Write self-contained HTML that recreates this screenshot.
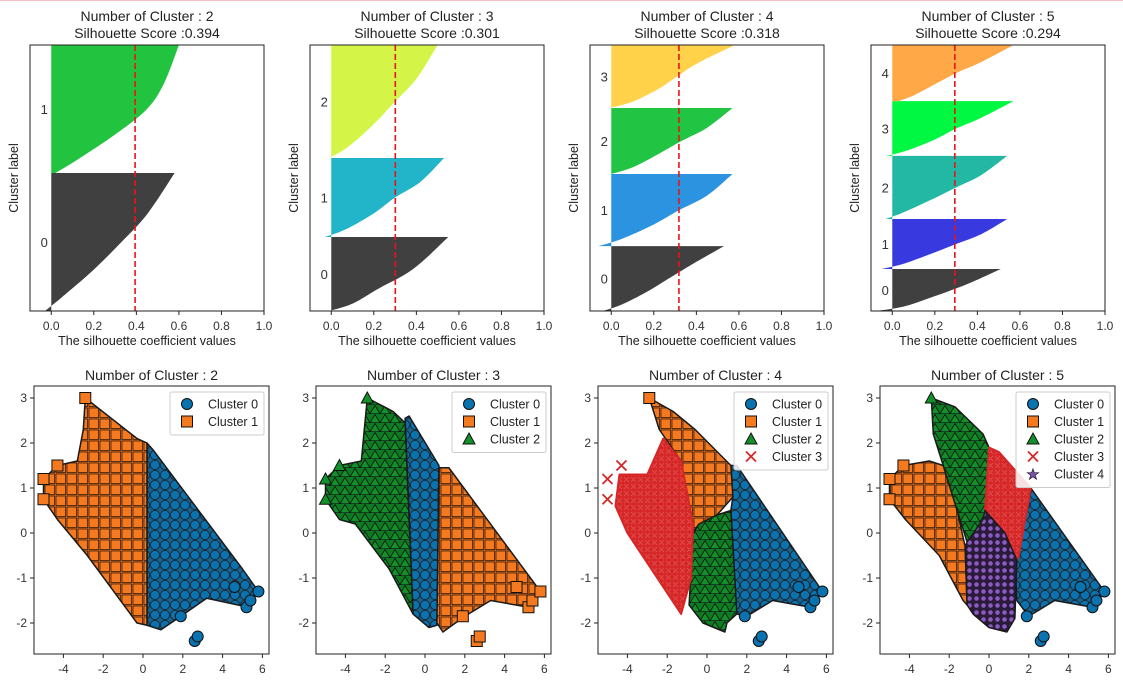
<!DOCTYPE html>
<html><head><meta charset="utf-8">
<style>
body{margin:0;background:#fff;}
svg{display:block;font-family:"Liberation Sans","NanumGothic","Noto Sans CJK KR",sans-serif;}
</style></head>
<body>
<svg id="fig" width="1123" height="688" viewBox="0 0 1123 688" xmlns="http://www.w3.org/2000/svg">
<defs>
<pattern id="p-blue" width="10" height="10" patternUnits="userSpaceOnUse"><rect width="10" height="10" fill="#17628f"/><circle cx="5" cy="5" r="4.6" fill="#0b72b0" stroke="#1a1a1a" stroke-width="0.8"/></pattern>
<pattern id="p-orange" width="11" height="11" patternUnits="userSpaceOnUse"><rect width="11" height="11" fill="#d9671a"/><rect x="1" y="1" width="9.5" height="9.5" fill="#f57a1f" stroke="#3a2010" stroke-width="0.8"/></pattern>
<pattern id="p-green" width="10" height="9" patternUnits="userSpaceOnUse"><rect width="10" height="9" fill="#0e7a22"/><polygon points="5,0.5 10,8.8 0,8.8" fill="#13902a" stroke="#111" stroke-width="0.8"/></pattern>
<pattern id="p-red" width="7" height="7" patternUnits="userSpaceOnUse"><rect width="7" height="7" fill="#d62728"/><path d="M1,1L6,6M6,1L1,6" stroke="#e24848" stroke-width="1"/></pattern>
<pattern id="p-purple" width="7" height="7" patternUnits="userSpaceOnUse"><rect width="7" height="7" fill="#2b1a3a"/><circle cx="3.5" cy="3.5" r="2.3" fill="#8a5cc0"/></pattern>
</defs>
</svg>
<script>
// ---------- silhouette data ----------
const silScores = [0.394, 0.301, 0.318, 0.294];
const silBounds = [[0,0.519,1],[0,0.278,0.575,1],[0,0.244,0.515,0.763,1],[0,0.158,0.346,0.583,0.789,1]];
const silFracs = [0,0.1,0.3,0.5,0.7,1];
const silP1 = [[-0.03,0.05,0.2,0.33,0.45,0.58],[0.02,0.12,0.3,0.45,0.53,0.6]];
const silP2 = [[-0.01,0.1,0.22,0.35,0.44,0.55],[-0.03,0.07,0.2,0.3,0.42,0.53],[-0.01,0.08,0.2,0.3,0.4,0.5]];
const silP3 = [[-0.04,0.05,0.17,0.27,0.37,0.53],[-0.06,0.05,0.2,0.32,0.45,0.57],[0.0,0.1,0.22,0.33,0.45,0.57],[-0.01,0.1,0.22,0.31,0.4,0.58]];
const silP4 = [[-0.08,0.05,0.17,0.28,0.38,0.51],[-0.05,0.05,0.18,0.3,0.42,0.54],[-0.03,0.05,0.18,0.3,0.42,0.54],[-0.03,0.07,0.2,0.3,0.42,0.57],[0.03,0.1,0.2,0.3,0.42,0.57]];
const silProfiles = [silP1, silP2, silP3, silP4];
const silColors = [["#404040","#22c33f"],["#404040","#22b4c8","#d4f548"],["#404040","#2b93df","#22c443","#ffd24a"],["#404040","#3939e0","#22b8a3","#00f742","#ffa848"]];
const silTicks = [0,0.2,0.4,0.6,0.8,1.0];
const silTickLabels = ["0.0","0.2","0.4","0.6","0.8","1.0"];
const nClusters = [2,3,4,5];

// ---------- scatter data (cluster hulls, data coords) ----------
const hull2 = [
 [[0.2,2.0],[0.5,1.85],[5.0,-0.8],[5.8,-1.3],[5.3,-1.65],[3.2,-1.45],[1.9,-1.85],[0.9,-2.15],[0.2,-2.05]],
 [[-2.9,3.0],[-0.3,2.1],[0.2,2.0],[0.2,-2.05],[-0.3,-2.0],[-2.8,-0.5],[-4.3,0.3],[-5.0,0.75],[-5.0,1.2],[-4.3,1.5],[-3.3,1.6],[-3.0,2.3]]
];
const hull3 = [
 [[-1.0,2.55],[-0.8,2.6],[0.7,1.5],[0.6,-2.05],[0.2,-2.1],[-0.6,-1.8]],
 [[0.7,1.45],[1.2,1.45],[5.8,-1.3],[5.2,-1.65],[3.3,-1.5],[2.0,-1.85],[0.9,-2.2],[0.6,-2.0]],
 [[-2.9,3.0],[-1.6,2.7],[-1.0,2.45],[-0.6,-1.8],[-1.8,-0.8],[-3.5,0.2],[-4.3,0.3],[-5.0,0.75],[-5.0,1.2],[-4.3,1.5],[-3.2,1.6]]
];
const hull4 = [
 [[1.2,1.5],[1.5,1.5],[5.8,-1.3],[5.2,-1.65],[3.3,-1.5],[2.0,-1.85],[1.5,-1.8],[1.2,0.5],[1.3,0.8]],
 [[-2.9,3.0],[-1.7,2.7],[-0.6,2.3],[1.2,1.5],[1.3,0.8],[0.5,0.4],[-0.4,0.2],[-0.9,-0.1],[-1.3,1.6],[-2.4,2.3]],
 [[0.5,0.4],[1.2,0.5],[1.5,-1.8],[1.0,-2.0],[0.9,-2.2],[-0.2,-2.0],[-0.9,-1.6],[-0.7,0.0],[-0.4,0.2]],
 [[-2.2,2.1],[-1.3,1.6],[-0.7,0.2],[-0.8,-1.0],[-1.3,-1.8],[-2.5,-1.0],[-4.0,0.0],[-4.6,0.6],[-4.4,1.3],[-3.0,1.3]]
];
const hull5 = [
 [[2.1,1.0],[5.8,-1.3],[5.2,-1.65],[3.3,-1.5],[2.0,-1.85],[1.4,-1.5],[1.3,-0.6],[1.5,-0.5]],
 [[-4.3,1.5],[-3.0,1.6],[-2.3,1.5],[-1.6,0.5],[-1.2,-0.3],[-1.1,-1.6],[-1.3,-1.5],[-2.5,-0.5],[-4.2,0.3],[-5.0,0.75],[-5.0,1.2]],
 [[-2.9,3.0],[-1.7,2.8],[-0.3,2.2],[0.0,1.9],[-0.2,0.5],[-0.3,0.3],[-1.1,-0.2],[-1.6,0.5],[-2.3,1.5],[-2.8,2.2]],
 [[0.0,1.9],[0.5,1.8],[2.1,1.0],[1.5,-0.5],[1.4,-0.6],[0.8,0.0],[-0.2,0.5]],
 [[-0.2,0.5],[0.8,0.0],[1.4,-0.6],[1.3,-1.9],[0.9,-2.2],[0.0,-2.1],[-0.8,-1.8],[-1.1,-1.6],[-1.2,-0.3],[-1.1,-0.2],[-0.3,0.3]]
];
const hulls = [hull2, hull3, hull4, hull5];
const outlierX = [2.6,2.75,5.2,5.4,5.8,4.6,1.9,-5.0,-5.0,-4.3,-2.9];
const outlierY = [-2.4,-2.3,-1.65,-1.5,-1.3,-1.2,-1.85,1.2,0.75,1.5,3.0];
const outlierCluster = [[0,0,0,0,0,0,0,1,1,1,1],[1,1,1,1,1,1,1,2,2,2,2],[0,0,0,0,0,0,0,3,3,3,1],[0,0,0,0,0,0,0,1,1,1,2]];
const xTicks = [-4,-2,0,2,4,6];
const yTicks = [3,2,1,0,-1,-2];
const clusterNames = ["Cluster 0","Cluster 1","Cluster 2","Cluster 3","Cluster 4"];

const NS="http://www.w3.org/2000/svg";
const svg=document.getElementById('fig');
function mk(tag,attrs,parent){const e=document.createElementNS(NS,tag);for(const k in attrs)e.setAttribute(k,attrs[k]);(parent||svg).appendChild(e);return e;}
function txt(s,attrs,parent){const e=mk('text',attrs,parent);e.textContent=s;return e;}
// smooth curve through points (Catmull-Rom -> cubic bezier)
function smooth(pts){
  let d='';
  for(let i=0;i<pts.length-1;i++){
    const p0=pts[Math.max(0,i-1)],p1=pts[i],p2=pts[i+1],p3=pts[Math.min(pts.length-1,i+2)];
    const c1=[p1[0]+(p2[0]-p0[0])/6,p1[1]+(p2[1]-p0[1])/6];
    const c2=[p2[0]-(p3[0]-p1[0])/6,p2[1]-(p3[1]-p1[1])/6];
    d+=' C'+c1[0]+','+c1[1]+' '+c2[0]+','+c2[1]+' '+p2[0]+','+p2[1];
  }
  return d;
}

const topLine=mk('rect',{x:0,y:0,width:1123,height:1,fill:'#f5c0c0'});



// ---------- silhouette plots ----------
const silLeft=[30,310,590,871];
const sT=45,sB=311,sW=234;
for(let p=0;p<4;p++){
  const L=silLeft[p];
  const sx=v=>L+(v+0.1)/1.1*sW;
  const sy=f=>sB-f*(sB-sT);
  const g=mk('g',{});
  
  
  const t1=txt('Number of Cluster : '+nClusters[p],{x:L+sW/2,y:21,'text-anchor':'middle','font-size':14,fill:'#222'},g);
  
  
  const t2=txt('Silhouette Score :'+silScores[p].toFixed(3),{x:L+sW/2,y:38,'text-anchor':'middle','font-size':14,fill:'#222'},g);
  
  
  const prof=silProfiles[p];
  for(let c=0;c<prof.length;c++){
    const b0=silBounds[p][c],b1=silBounds[p][c+1];
    const pts=[];
    for(let i=0;i<silFracs.length;i++){pts.push([sx(prof[c][i]),sy(b0+(b1-b0)*silFracs[i])]);}
    const d='M'+sx(0)+','+sy(b0)+' L'+pts[0][0]+','+pts[0][1]+smooth(pts)+' L'+sx(0)+','+sy(b1)+' Z';
    const poly=mk('path',{d:d,fill:silColors[p][c]},g);
    
    
    const lb=txt(String(c),{x:sx(-0.05),y:sy((b0+b1)/2)+5,'font-size':13,fill:'#333'},g);
    
    
  }
  const ln=mk('line',{x1:sx(silScores[p]),x2:sx(silScores[p]),y1:sT,y2:sB,stroke:'#e8141a','stroke-width':1.6,'stroke-dasharray':'6,3'},g);
  
  
  const fr=mk('rect',{x:L,y:sT,width:sW,height:sB-sT,fill:'none',stroke:'#222','stroke-width':1},g);
  
  
  for(let i=0;i<silTicks.length;i++){
    const x=sx(silTicks[i]);
    mk('line',{x1:x,x2:x,y1:sB,y2:sB+4,stroke:'#222'},g);
    const tl=txt(silTickLabels[i],{x:x,y:sB+19,'text-anchor':'middle','font-size':12,fill:'#333'},g);
    
    
  }
  const xl=txt('The silhouette coefficient values',{x:L+sW/2,y:345,'text-anchor':'middle','font-size':12.5,fill:'#222'},g);
  
  
  const yl=txt('Cluster label',{x:0,y:0,'text-anchor':'middle','font-size':12.5,fill:'#222',transform:'translate('+(L-12)+','+((sT+sB)/2)+') rotate(-90)'},g);
  
  
}

// ---------- scatter plots ----------
const scLeft=[34,316,598,880];
const cT=386,cB=654,cW=235;
const pats=['url(#p-blue)','url(#p-orange)','url(#p-green)','url(#p-red)','url(#p-purple)'];
const solid=['#0b72b0','#f57a1f','#13902a','#d62728','#7a4fae'];
for(let p=0;p<4;p++){
  const L=scLeft[p];
  const sx=v=>L+109+v*19.9;
  const sy=v=>533-v*45;
  const g=mk('g',{});
  
  
  const t=txt('Number of Cluster : '+nClusters[p],{x:L+cW/2,y:380,'text-anchor':'middle','font-size':14,fill:'#222'},g);
  
  
  const hs=hulls[p];
  for(let c=0;c<hs.length;c++){
    const pts=hs[c].map(q=>sx(q[0])+','+sy(q[1])).join(' ');
    const poly=mk('polygon',{points:pts,fill:pats[c],stroke:c===3?'#d62728':'#1a1a1a','stroke-width':c===3?2:1.5,'stroke-linejoin':'round'},g);
    
    
  }
  for(let i=0;i<outlierX.length;i++){
    const c=outlierCluster[p][i];const x=sx(outlierX[i]),y=sy(outlierY[i]);
    let m;
    if(c===0)m=mk('circle',{cx:x,cy:y,r:5.5,fill:solid[0],stroke:'#111'},g);
    else if(c===1)m=mk('rect',{x:x-5.5,y:y-5.5,width:11,height:11,fill:solid[1],stroke:'#111'},g);
    else if(c===2)m=mk('polygon',{points:(x)+','+(y-6)+' '+(x+6)+','+(y+5)+' '+(x-6)+','+(y+5),fill:solid[2],stroke:'#111'},g);
    else m=mk('path',{d:'M'+(x-5)+','+(y-5)+'L'+(x+5)+','+(y+5)+'M'+(x+5)+','+(y-5)+'L'+(x-5)+','+(y+5),stroke:solid[3],'stroke-width':1.8},g);
    
    
  }
  const fr=mk('rect',{x:L,y:cT,width:cW,height:cB-cT,fill:'none',stroke:'#222','stroke-width':1},g);
  
  
  for(const v of xTicks){
    const x=sx(v);mk('line',{x1:x,x2:x,y1:cB,y2:cB+4,stroke:'#222'},g);
    const tl=txt(String(v),{x:x,y:cB+19,'text-anchor':'middle','font-size':12,fill:'#333'},g);
    
    
  }
  for(const v of yTicks){
    const y=sy(v);mk('line',{x1:L-4,x2:L,y1:y,y2:y,stroke:'#222'},g);
    const tl=txt(String(v),{x:L-7,y:y+4,'text-anchor':'end','font-size':12,fill:'#333'},g);
    
    
  }
  const n=nClusters[p];
  const lx=L+136,ly=cT+6,lw=94,lh=8+n*17.5;
  const lg=mk('g',{},g);
  
  
  mk('rect',{x:lx,y:ly,width:lw,height:lh,rx:2,fill:'#fff','fill-opacity':0.85,stroke:'#ccc'},lg);
  for(let c=0;c<n;c++){
    const x=lx+17,y=ly+12+c*17.5;let m;
    if(c===0)m=mk('circle',{cx:x,cy:y,r:5.5,fill:solid[0],stroke:'#111'},lg);
    else if(c===1)m=mk('rect',{x:x-5.5,y:y-5.5,width:11,height:11,fill:solid[1],stroke:'#111'},lg);
    else if(c===2)m=mk('polygon',{points:x+','+(y-6)+' '+(x+6)+','+(y+5)+' '+(x-6)+','+(y+5),fill:solid[2],stroke:'#111'},lg);
    else if(c===3)m=mk('path',{d:'M'+(x-5)+','+(y-5)+'L'+(x+5)+','+(y+5)+'M'+(x+5)+','+(y-5)+'L'+(x-5)+','+(y+5),stroke:solid[3],'stroke-width':1.8},lg);
    else m=txt('★',{x:x,y:y+5,'text-anchor':'middle','font-size':14,fill:solid[4],stroke:'#111','stroke-width':0.6},lg);
    
    
    const tl=txt(clusterNames[c],{x:lx+38,y:y+4.5,'font-size':12.5,fill:'#222'},lg);
    
    
  }
}
</script>
</body></html>
